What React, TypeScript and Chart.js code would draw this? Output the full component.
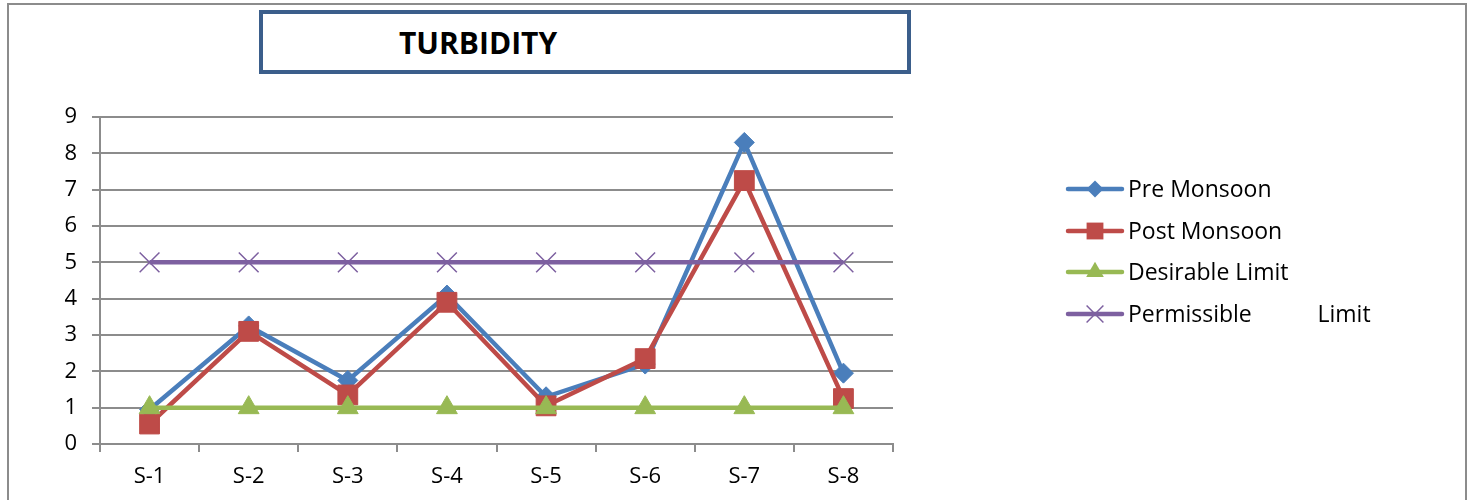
import React, { useEffect, useRef } from "react";
import { Chart, registerables } from "chart.js";

Chart.register(...registerables);

const sites = ["S-1", "S-2", "S-3", "S-4", "S-5", "S-6", "S-7", "S-8"];
const preMonsoon = [0.95, 3.25, 1.75, 4.1, 1.3, 2.2, 8.3, 1.95];
const postMonsoon = [0.55, 3.1, 1.35, 3.9, 1.05, 2.35, 7.25, 1.25];
const desirableLimit = [1, 1, 1, 1, 1, 1, 1, 1];
const permissibleLimit = [5, 5, 5, 5, 5, 5, 5, 5];
const yTicks = [0, 1, 2, 3, 4, 5, 6, 7, 8, 9];

const FONT = "'Open Sans', 'DejaVu Sans', sans-serif";
const GRID = "#8c8c8c";

type Marker = { style: string; radius: number; color: string; border: number };

// Draws one legend marker by hand so the legend matches the plotted points.
function drawMarker(ctx: CanvasRenderingContext2D, m: Marker, x: number, y: number) {
  const r = m.radius;
  ctx.save();
  ctx.fillStyle = m.color;
  ctx.strokeStyle = m.color;
  ctx.lineWidth = m.border;
  ctx.beginPath();
  if (m.style === "rectRot") {
    ctx.moveTo(x - r, y);
    ctx.lineTo(x, y - r);
    ctx.lineTo(x + r, y);
    ctx.lineTo(x, y + r);
    ctx.closePath();
    ctx.fill();
  } else if (m.style === "rect") {
    const s = Math.SQRT1_2 * r;
    ctx.rect(x - s, y - s, 2 * s, 2 * s);
    ctx.fill();
  } else if (m.style === "triangle") {
    ctx.moveTo(x, y - r);
    ctx.lineTo(x + Math.sin((2 * Math.PI) / 3) * r, y - Math.cos((2 * Math.PI) / 3) * r);
    ctx.lineTo(x + Math.sin((4 * Math.PI) / 3) * r, y - Math.cos((4 * Math.PI) / 3) * r);
    ctx.closePath();
    ctx.fill();
  } else {
    const d = Math.SQRT1_2 * r;
    ctx.moveTo(x - d, y - d);
    ctx.lineTo(x + d, y + d);
    ctx.moveTo(x + d, y - d);
    ctx.lineTo(x - d, y + d);
    ctx.stroke();
  }
  ctx.restore();
}

const sideLegend = {
  id: "sideLegend",
  afterDraw(chart: any) {
    const ctx: CanvasRenderingContext2D = chart.ctx;
    const x0 = 1068;
    const x1 = 1122;
    const rows = [189, 231, 272, 314];
    chart.data.datasets.forEach((ds: any, i: number) => {
      const y = rows[i];
      ctx.save();
      ctx.strokeStyle = ds.borderColor;
      ctx.lineWidth = ds.borderWidth;
      ctx.lineCap = "round";
      ctx.beginPath();
      ctx.moveTo(x0, y);
      ctx.lineTo(x1, y);
      ctx.stroke();
      ctx.restore();
      drawMarker(
        ctx,
        {
          style: ds.pointStyle,
          radius: ds.pointRadius * 0.85,
          color: ds.pointBackgroundColor,
          border: ds.pointBorderWidth,
        },
        (x0 + x1) / 2,
        y
      );
      ctx.save();
      ctx.fillStyle = "#000";
      ctx.font = `23px ${FONT}`;
      ctx.textBaseline = "middle";
      ctx.textAlign = "left";
      ctx.fillText(ds.label, 1128, y + 1);
      ctx.restore();
    });
  },
};

export default function App() {
  const canvasRef = useRef<HTMLCanvasElement | null>(null);

  useEffect(() => {
    if (!canvasRef.current) return;
    Chart.defaults.font.family = FONT;
    const chart = new Chart(canvasRef.current, {
      type: "line",
      data: {
        labels: sites,
        datasets: [
          {
            label: "Pre Monsoon",
            data: preMonsoon,
            borderColor: "#4a7ebb",
            backgroundColor: "#4a7ebb",
            pointBackgroundColor: "#4a7ebb",
            pointBorderColor: "#4a7ebb",
            borderWidth: 4.5,
            pointStyle: "rectRot",
            pointRadius: 10,
            pointBorderWidth: 1,
            tension: 0,
            order: 4,
          },
          {
            label: "Post Monsoon",
            data: postMonsoon,
            borderColor: "#be4b48",
            backgroundColor: "#be4b48",
            pointBackgroundColor: "#be4b48",
            pointBorderColor: "#be4b48",
            borderWidth: 4.5,
            pointStyle: "rect",
            pointRadius: 14,
            pointBorderWidth: 1,
            tension: 0,
            order: 3,
          },
          {
            label: "Desirable Limit",
            data: desirableLimit,
            borderColor: "#98b954",
            backgroundColor: "#98b954",
            pointBackgroundColor: "#98b954",
            pointBorderColor: "#98b954",
            borderWidth: 4.5,
            pointStyle: "triangle",
            pointRadius: 12,
            pointBorderWidth: 1,
            tension: 0,
            order: 2,
          },
          {
            label: "Permissible           Limit",
            data: permissibleLimit,
            borderColor: "#7d60a0",
            backgroundColor: "#7d60a0",
            pointBackgroundColor: "#7d60a0",
            pointBorderColor: "#7d60a0",
            borderWidth: 4.5,
            pointStyle: "crossRot",
            pointRadius: 14,
            pointBorderWidth: 1.5,
            tension: 0,
            order: 1,
          },
        ] as any,
      },
      options: {
        responsive: false,
        animation: false,
        devicePixelRatio: 1,
        layout: { padding: { top: 117, right: 577, left: 0, bottom: 0 } },
        plugins: {
          legend: { display: false },
          title: { display: false },
          tooltip: { enabled: false },
        },
        scales: {
          x: {
            type: "category",
            offset: true,
            grid: {
              offset: true,
              drawOnChartArea: false,
              drawTicks: true,
              tickLength: 8,
              color: GRID,
              lineWidth: 2,
            },
            border: { display: true, color: GRID, width: 2 },
            ticks: {
              color: "#000",
              font: { size: 22, family: FONT },
              padding: 12,
              maxRotation: 0,
            },
            afterFit(scale: any) {
              scale.height = 56;
            },
          },
          y: {
            min: yTicks[0],
            max: yTicks[yTicks.length - 1],
            afterBuildTicks(scale: any) {
              scale.ticks = yTicks.map((v) => ({ value: v }));
            },
            grid: {
              color: GRID,
              lineWidth: 2,
              tickLength: 8,
              drawTicks: true,
            },
            border: { display: true, color: GRID, width: 2 },
            ticks: {
              color: "#000",
              font: { size: 22, family: FONT },
              padding: 15,
            },
            afterFit(scale: any) {
              scale.width = 100;
            },
          },
        },
      } as any,
      plugins: [sideLegend],
    });
    return () => chart.destroy();
  }, []);

  return (
    <div
      style={{
        position: "fixed",
        left: 0,
        top: 0,
        width: 1470,
        height: 500,
        overflow: "hidden",
        background: "#fff",
      }}
    >
      <div
        style={{
          position: "absolute",
          left: 7,
          top: 3,
          width: 1460,
          height: 540,
          border: `2px solid ${GRID}`,
          boxSizing: "border-box",
        }}
      />
      <canvas
        ref={canvasRef}
        width={1470}
        height={500}
        style={{ position: "absolute", left: 0, top: 0, width: 1470, height: 500 }}
      />
      <div
        style={{
          position: "absolute",
          left: 259,
          top: 10,
          width: 652,
          height: 64,
          border: "4px solid #3b5e8b",
          boxSizing: "border-box",
          background: "#fff",
        }}
      />
      <div
        style={{
          position: "absolute",
          left: 399,
          top: 23,
          height: 40,
          lineHeight: "40px",
          fontFamily: FONT,
          fontWeight: 700,
          fontSize: 30,
          color: "#000",
          whiteSpace: "nowrap",
        }}
      >
        TURBIDITY
      </div>
    </div>
  );
}
